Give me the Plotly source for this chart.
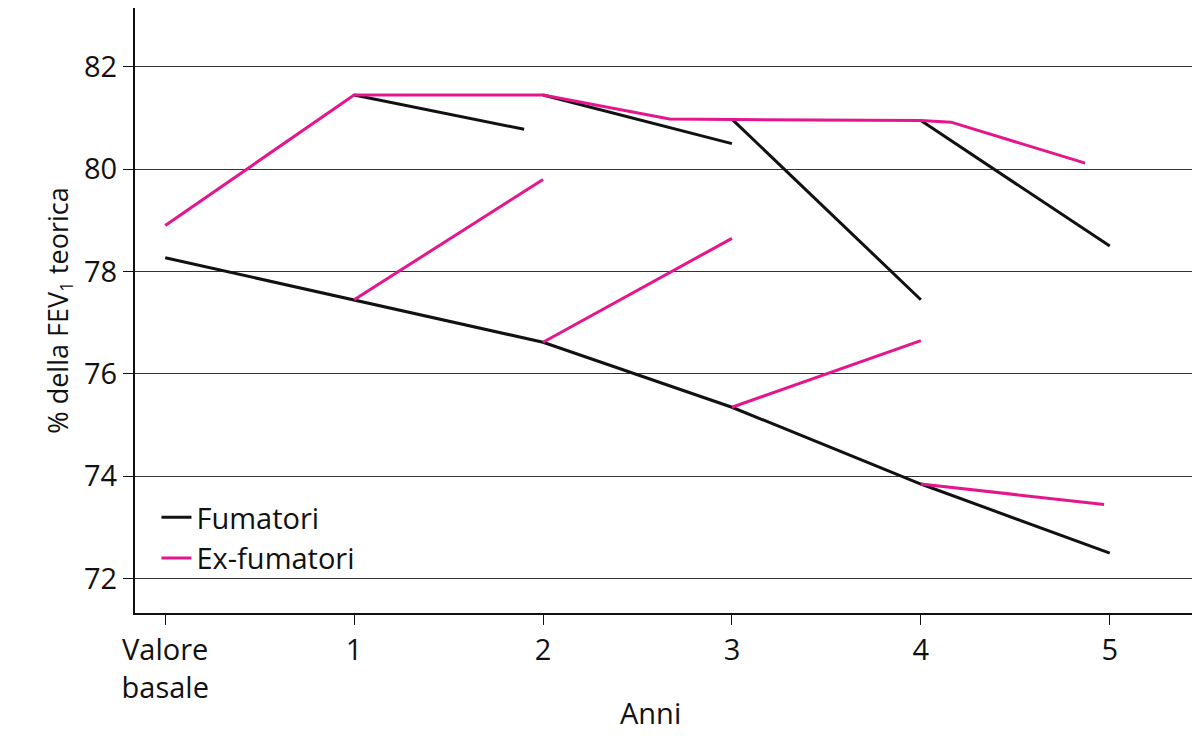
import plotly.graph_objects as go

x_labels = ["Valore<br>basale", "1", "2", "3", "4", "5"]
x_ticks = [0, 1, 2, 3, 4, 5]

# Fumatori (black) segments
smk_main_x = [0, 1, 2, 3, 4, 5]
smk_main_y = [78.27, 77.45, 76.62, 75.35, 73.85, 72.5]
smk_br_x = [[1, 1.9], [2, 3], [3, 4], [4, 5]]
smk_br_y = [[81.45, 80.78], [81.45, 80.5], [80.98, 77.45], [80.95, 78.5]]

# Ex-fumatori (pink) segments
ex_main_x = [0, 1, 2, 2.67, 4, 4.16, 4.87]
ex_main_y = [78.9, 81.45, 81.45, 80.98, 80.95, 80.92, 80.12]
ex_br_x = [[1, 2], [2, 3], [3, 4], [4, 4.97]]
ex_br_y = [[77.45, 79.8], [76.62, 78.65], [75.35, 76.65], [73.85, 73.45]]

def join(main_x, main_y, bx, by):
    xs, ys = list(main_x), list(main_y)
    for a, b in zip(bx, by):
        xs += [None] + a
        ys += [None] + b
    return xs, ys

BLACK = "#111111"
PINK = "#e5168c"
fig = go.Figure()
sx, sy = join(smk_main_x, smk_main_y, smk_br_x, smk_br_y)
ex, ey = join(ex_main_x, ex_main_y, ex_br_x, ex_br_y)
fig.add_trace(go.Scatter(x=sx, y=sy, mode="lines", name="Fumatori",
                         line=dict(color=BLACK, width=3)))
fig.add_trace(go.Scatter(x=ex, y=ey, mode="lines", name="Ex-fumatori",
                         line=dict(color=PINK, width=3)))

font = "Open Sans"
fig.update_layout(
    width=1200, height=738,
    margin=dict(l=127, r=0, t=0, b=133),
    plot_bgcolor="white", paper_bgcolor="white",
    font=dict(family=font, size=29, color="#111"),
    legend=dict(x=0.02, y=0.2, xanchor="left", yanchor="top",
                bgcolor="rgba(0,0,0,0)", font=dict(size=29)),
    xaxis=dict(range=[-0.16, 5.52], tickvals=x_ticks, ticktext=x_labels,
               showgrid=False, showline=True, linecolor="#111", linewidth=2,
               ticks="outside", ticklen=10, tickcolor="#111", zeroline=False),
    yaxis=dict(range=[71.33, 83.15], tickvals=[72, 74, 76, 78, 80, 82],
               showgrid=True, gridcolor="#333", gridwidth=1.2,
               showline=True, linecolor="#111", linewidth=2,
               ticks="outside", ticklen=10, tickcolor="#111", zeroline=False,
               title=dict(text="% della FEV<sub>1</sub> teorica", font=dict(size=27), standoff=8)),
    annotations=[dict(text="Anni", xref="paper", yref="paper", x=0.48, y=-0.165,
                      xanchor="center", yanchor="middle", showarrow=False,
                      font=dict(size=29))],
)
fig.write_html("out.html")
